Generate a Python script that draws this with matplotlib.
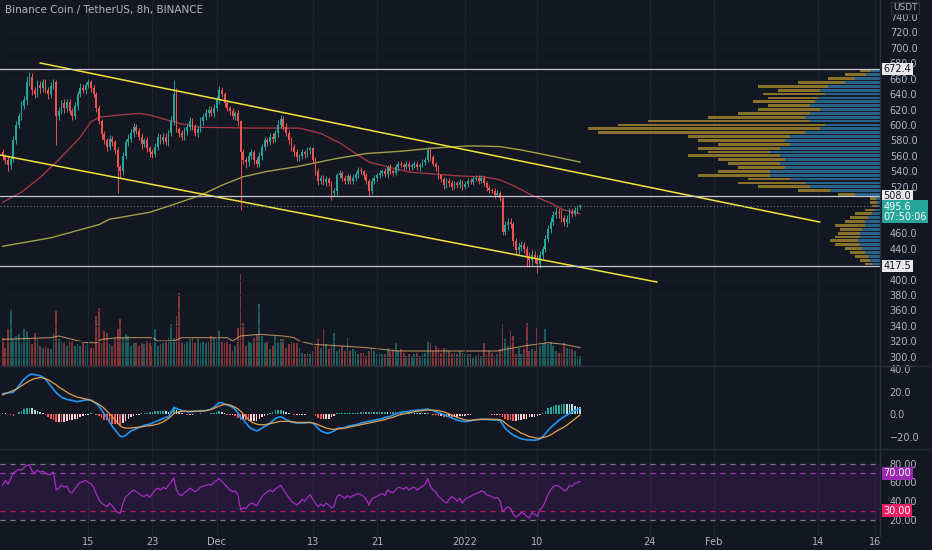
import numpy as np
import matplotlib
matplotlib.use("Agg")
import matplotlib.pyplot as plt
from matplotlib.transforms import blended_transform_factory as btf
from matplotlib.lines import Line2D

# ---- data (BNB/USDT, 8h candles) ----
first_open = 565
closes = [
    560, 555, 548, 556, 580, 600, 612, 625, 632, 655,
    662, 645, 640, 652, 648, 655, 645, 640, 650, 655,
    612, 618, 628, 622, 630, 618, 612, 625, 640, 648,
    645, 652, 655, 648, 640, 622, 605, 588, 580, 572,
    582, 578, 568, 545, 540, 560, 578, 582, 590, 598,
    592, 585, 575, 580, 570, 565, 562, 572, 585, 580,
    585, 578, 590, 605, 640, 595, 590, 585, 592, 598,
    605, 598, 590, 595, 605, 610, 615, 620, 615, 622,
    632, 645, 640, 628, 622, 618, 612, 615, 605, 565,
    555, 552, 560, 565, 555, 550, 560, 572, 580, 578,
    585, 582, 590, 600, 608, 598, 590, 580, 572, 565,
    558, 560, 565, 562, 568, 570, 555, 540, 528, 532,
    526, 530, 525, 512, 515, 535, 538, 532, 528, 534,
    528, 532, 536, 542, 540, 535, 528, 515, 528, 532,
    535, 538, 540, 536, 545, 540, 538, 545, 550, 548,
    546, 550, 545, 548, 550, 545, 548, 552, 555, 568,
    558, 550, 545, 535, 530, 522, 528, 525, 520, 525,
    522, 526, 520, 524, 528, 526, 530, 532, 528, 531,
    525, 518, 516, 515, 510, 512, 505, 462, 470, 475,
    472, 450, 438, 442, 445, 440, 430, 425, 432, 428,
    420, 432, 440, 452, 465, 475, 484, 488, 486, 480,
    475, 478, 488, 485, 490, 494, 495.6,
]
wick_up = [
    4, 3, 5, 4, 6, 5, 4, 6, 5, 8,
    6, 5, 4, 6, 5, 4, 5, 4, 6, 5,
    3, 5, 4, 5, 4, 3, 4, 5, 4, 6,
    5, 4, 5, 3, 4, 3, 4, 3, 4, 3,
    5, 4, 3, 4, 3, 5, 4, 6, 5, 4,
    3, 4, 5, 3, 4, 3, 4, 5, 4, 3,
    4, 5, 4, 6, 18, 8, 3, 4, 5, 4,
    5, 4, 3, 4, 5, 4, 6, 5, 4, 5,
    6, 5, 4, 3, 4, 3, 4, 3, 4, 2,
    4, 3, 5, 4, 3, 4, 5, 4, 5, 3,
    4, 5, 4, 6, 5, 3, 4, 3, 4, 3,
    4, 3, 4, 3, 4, 3, 2, 3, 4, 3,
    3, 4, 3, 2, 4, 3, 4, 3, 3, 4,
    3, 4, 3, 4, 3, 2, 3, 2, 4, 3,
    3, 4, 3, 4, 3, 4, 3, 4, 3, 4,
    3, 4, 3, 3, 4, 3, 3, 4, 3, 4,
    2, 3, 2, 3, 2, 3, 4, 3, 4, 3,
    3, 4, 3, 3, 4, 3, 4, 3, 3, 4,
    3, 3, 4, 3, 3, 4, 3, 2, 6, 5,
    5, 3, 4, 6, 5, 4, 4, 5, 6, 5,
    4, 5, 4, 6, 5, 6, 5, 6, 4, 5,
    4, 5, 4, 5, 4, 3, 2,
]
wick_dn = [
    5, 6, 8, 5, 4, 5, 4, 5, 4, 6,
    5, 6, 5, 4, 6, 5, 4, 6, 5, 4,
    38, 5, 4, 6, 5, 4, 5, 4, 5, 4,
    4, 5, 4, 5, 4, 5, 4, 6, 5, 6,
    4, 5, 6, 33, 8, 5, 4, 5, 4, 5,
    4, 5, 6, 4, 5, 6, 5, 4, 5, 4,
    5, 4, 5, 4, 5, 4, 6, 5, 4, 5,
    4, 5, 4, 5, 4, 5, 4, 5, 4, 5,
    4, 5, 4, 5, 4, 5, 4, 5, 6, 75,
    6, 8, 5, 4, 6, 5, 4, 5, 4, 5,
    4, 5, 4, 5, 4, 5, 4, 5, 6, 5,
    4, 5, 4, 5, 4, 5, 4, 5, 6, 5,
    4, 5, 4, 9, 4, 5, 4, 5, 4, 5,
    4, 5, 4, 5, 4, 5, 4, 7, 4, 5,
    4, 3, 4, 3, 4, 3, 4, 3, 4, 3,
    4, 3, 4, 3, 4, 3, 4, 3, 4, 3,
    4, 3, 4, 5, 4, 5, 4, 5, 4, 3,
    4, 3, 4, 3, 4, 3, 4, 3, 4, 3,
    4, 3, 4, 3, 4, 3, 4, 4, 5, 6,
    5, 6, 5, 6, 5, 6, 14, 9, 6, 7,
    12, 5, 6, 5, 4, 5, 4, 5, 6, 5,
    6, 7, 5, 4, 3, 4, 3,
]
volume = [
    85, 55, 110, 170, 80, 90, 95, 70, 110, 105,
    85, 65, 100, 80, 60, 55, 60, 55, 50, 100,
    165, 80, 75, 70, 60, 75, 75, 60, 65, 60,
    70, 60, 65, 55, 55, 150, 175, 70, 105, 100,
    65, 60, 80, 110, 140, 85, 95, 90, 60, 70,
    70, 60, 70, 65, 75, 70, 60, 110, 60, 65,
    70, 75, 85, 125, 85, 150, 220, 70, 65, 75,
    80, 85, 70, 80, 70, 75, 70, 75, 90, 85,
    80, 105, 75, 70, 75, 65, 45, 60, 115, 275,
    130, 60, 75, 70, 85, 95, 185, 90, 70, 75,
    50, 60, 90, 70, 80, 80, 55, 65, 75, 70,
    70, 55, 40, 35, 40, 35, 45, 60, 80, 55,
    110, 65, 50, 60, 100, 45, 50, 60, 45, 85,
    45, 50, 45, 35, 40, 40, 30, 45, 50, 45,
    35, 40, 35, 35, 55, 45, 45, 70, 45, 50,
    40, 30, 35, 30, 35, 40, 30, 35, 40, 75,
    70, 45, 60, 55, 40, 55, 50, 45, 35, 40,
    35, 45, 40, 35, 35, 35, 25, 30, 35, 30,
    70, 35, 45, 40, 30, 35, 50, 125, 80, 60,
    105, 90, 35, 55, 35, 50, 130, 45, 50, 45,
    115, 60, 65, 110, 65, 75, 60, 45, 40, 40,
    70, 55, 50, 50, 45, 30, 30,
]
vol_ma_idx = [0, 18, 21, 31, 35, 37, 43, 56, 58, 64, 67, 74, 84, 86, 89, 96,
              105, 109, 111, 116, 123, 136, 142, 148, 160, 173, 185, 188, 195,
              204, 210, 216]
vol_ma_val = [80, 85, 90, 70, 70, 80, 85, 85, 75, 75, 85, 85, 85, 75, 90, 95,
              90, 85, 75, 65, 62, 55, 50, 45, 45, 45, 45, 50, 60, 70, 65, 55]

ma50_idx = [0, 7, 14, 21, 29, 33, 36, 44, 51, 55, 62, 66, 74, 93, 108, 111, 119,
            126, 133, 137, 144, 152, 167, 171, 180, 186, 192, 198, 205, 210, 216]
ma50_val = [500, 513, 532, 555, 584, 604, 610, 613, 615, 613, 606, 602, 597, 596,
            596, 596, 589, 577, 561, 552, 546, 539, 535, 534, 533, 529, 520, 509,
            499, 490, 485]
ma200_idx = [0, 18, 36, 40, 55, 63, 74, 82, 90, 99, 110, 124, 136, 149, 161, 175,
             186, 195, 205, 216]
ma200_val = [443, 454, 471, 478, 487, 496, 509, 522, 533, 540, 546, 556, 563, 566,
             570, 573, 572, 567, 560, 552]

macd = [
    18, 18.5, 19, 19, 19.5, 22, 25, 28, 31, 33,
    35, 35.5, 35, 34.5, 34, 33, 31, 28, 25, 22,
    19, 17, 15, 14, 13, 12.5, 12, 11.5, 11, 11.5,
    12, 12.5, 12.5, 12.5, 11, 9, 7, 3.5, 0, -3,
    -7, -11, -14, -17, -20, -20, -19, -17, -15, -14,
    -13, -12, -11, -10, -9.5, -9, -8, -7, -6, -5,
    -4, -3, -2.5, 1, 6, 5, 4, 3, 2.5, 2,
    2, 2, 2.5, 2.5, 3, 3, 3, 3.5, 4.5, 6,
    8, 10, 10, 9, 8, 7, 6, 4, 1, -3,
    -5, -8, -11, -13, -14, -15, -14, -12.5, -11, -10,
    -8, -6, -4, -3, -2.5, -3.5, -5, -6, -7, -7.5,
    -8, -8, -8, -8, -7.5, -7.5, -8, -10, -13, -15,
    -16, -17, -17, -16, -15, -13, -12.5, -12.5, -12, -11,
    -10.5, -10, -9.5, -9, -8, -7.5, -7, -6.5, -6, -5.5,
    -5, -4.5, -4, -3, -2.5, -2, -1, 0, 1, 1.5,
    2, 2, 2.5, 3, 3, 3.5, 3.5, 4, 4, 4.5,
    3.5, 3, 2, 1, 0.5, -0.5, -1.5, -2.4, -3.5, -4.5,
    -5.5, -6, -6.5, -6.8, -6.5, -6, -5.5, -5, -4.8, -4.7,
    -4.7, -4.8, -5, -5.2, -5.3, -5.3, -6, -9, -12.7, -15,
    -17, -18.7, -20, -21, -22, -22.5, -23, -23, -23.2, -23.3,
    -23, -22, -20, -17.5, -14.5, -12, -9.8, -7.8, -5.8, -4,
    -2.4, -1, 0.5, 2, 3, 4, 5,
]
signal = [
    17, 18, 19, 20, 21, 22, 23.5, 25, 26.5, 28,
    29.5, 30.5, 31.5, 32, 32.5, 32, 31.5, 30.5, 29, 27.5,
    26, 24, 22.5, 21, 19.5, 18, 17, 16, 15, 14.5,
    14, 13.5, 13, 12, 11, 10, 8.5, 7, 5, 2.5,
    0, -2.5, -5, -8, -10.5, -12, -12.5, -12.5, -12.5, -12,
    -12, -11.5, -11.5, -11, -10.5, -10.5, -10, -9.5, -9, -8,
    -7, -5.5, -4, -2, 0.5, 1.5, 2, 2.5, 2.5, 2.5,
    2.5, 2.5, 2.5, 2.5, 2.5, 2.7, 3, 3.5, 4, 5,
    6, 7, 8, 8.5, 8.5, 8, 7, 6, 4.5, 2.5,
    0, -2.5, -5, -7, -8, -9, -9.5, -9.5, -9.5, -9,
    -8.5, -8, -7.5, -7, -6.5, -6.5, -6.5, -6.5, -7, -7,
    -7.5, -7.5, -7.5, -7.5, -7.5, -7.5, -8, -8.5, -9.5, -10.5,
    -11.5, -12.5, -13, -13.5, -13.5, -13.5, -13, -13, -12.5, -12,
    -11.5, -11, -10.5, -10, -9.5, -9, -8.5, -8, -7.5, -7,
    -6.5, -6, -5.5, -5, -4, -3.5, -3, -2, -1, -0.5,
    0, 0.5, 1, 1.5, 2, 2.5, 2.7, 3, 3.2, 3.5,
    3.5, 3.5, 3.2, 3, 2.5, 2, 1, 0, -1, -2,
    -3, -3.8, -4.5, -5.3, -5.5, -5.5, -5.4, -5.2, -5, -4.8,
    -4.7, -4.6, -4.6, -4.6, -4.7, -4.7, -5, -6, -8, -10,
    -11.5, -12.7, -14, -15.5, -17, -18, -19, -20, -20.5, -21,
    -21.5, -21.5, -21, -20.5, -19.6, -18.5, -17, -15.5, -14, -12.8,
    -11.6, -10, -8.2, -6.5, -4.5, -2.5, -0.9,
]
rsi = [
    57, 62, 58, 64, 70, 72, 74, 73, 76, 78,
    79, 72, 70, 73, 71, 72, 70, 68, 69, 71,
    52, 54, 57, 55, 56, 50, 49, 53, 57, 60,
    61, 62, 60, 59, 55, 48, 42, 38, 36, 34,
    38, 35, 31, 28, 27, 38, 45, 47, 50, 52,
    50, 48, 46, 45, 47, 44, 48, 52, 54, 52,
    55, 53, 57, 60, 65, 52, 47, 46, 49, 51,
    54, 52, 50, 52, 55, 56, 57, 58, 57, 60,
    62, 64, 61, 58, 55, 52, 50, 51, 47, 31,
    33, 32, 36, 38, 37, 35, 40, 45, 48, 50,
    52, 50, 53, 55, 57, 52, 48, 44, 40, 38,
    36, 38, 42, 40, 44, 47, 42, 38, 34, 37,
    35, 38, 36, 33, 35, 45, 47, 45, 43, 46,
    44, 46, 47, 48, 47, 45, 42, 36, 42, 44,
    45, 47, 48, 46, 52, 50, 49, 52, 55, 54,
    53, 55, 52, 54, 55, 52, 54, 56, 58, 64,
    56, 52, 50, 45, 43, 40, 38, 42, 45, 43,
    40, 43, 38, 42, 44, 45, 47, 48, 49, 51,
    50, 47, 46, 45, 43, 44, 41, 29, 32, 34,
    32, 26, 23, 25, 28, 27, 24, 22, 28, 26,
    24, 31, 34, 40, 47, 52, 56, 57, 56, 54,
    51, 52, 57, 56, 59, 60, 61,
]

# visible range volume profile (5 USDT rows)
vp_price = list(range(420, 675, 5))
vp_total = [15, 20, 25, 30, 35, 45, 50, 45, 42, 40, 45, 35, 30, 25, 15, 8, 10, 10,
            42, 82, 122, 142, 132, 182, 162, 142, 152, 162, 192, 172, 182, 162,
            182, 192, 282, 292, 262, 232, 172, 142, 122, 112, 127, 112, 117, 102,
            122, 82, 52, 35, 20]
vp_up = [8, 10, 12, 15, 18, 20, 22, 20, 20, 18, 15, 15, 12, 8, 5, 3, 3, 4,
         25, 50, 70, 75, 90, 110, 110, 95, 100, 95, 100, 110, 100, 90,
         95, 90, 75, 60, 55, 70, 75, 70, 60, 70, 65, 62, 55, 60,
         52, 35, 25, 14, 9]

# drawn annotations: trend channel and levels
upper_trend = ([5.0, 102.2], [680.2, 474.4])
lower_trend = ([0.0, 81.9], [561.1, 396.8])
levels = [672.4, 508.0, 417.5]
last_price = 495.6

tick_days = [11, 19, 27, 39, 47, 58, 67, 81, 89, 102, 109.1]
tick_labels = ["15", "23", "Dec", "13", "21", "2022", "10", "24", "Feb", "14", "16"]
price_ticks = [300, 320, 340, 360, 380, 400, 440, 460, 480, 520, 540, 560, 580,
               600, 620, 640, 660, 680, 700, 720, 740]

# ---- styling ----
BG = "#131722"
TXT = "#b2b5be"
GRID = "#1f2330"
UP, DN = "#26a69a", "#ef5350"

plt.rcParams["font.family"] = ["DejaVu Sans"]

fig = plt.figure(figsize=(9.32, 5.5), dpi=100, facecolor=BG)
W = 880 / 932
ax = fig.add_axes([0, 1 - 366 / 550, W, 366 / 550])
axm = fig.add_axes([0, 1 - 449 / 550, W, 83 / 550], sharex=ax)
axr = fig.add_axes([0, 1 - 536 / 550, W, 87 / 550], sharex=ax)
vax = ax.twinx()
vax.set_facecolor(BG)
ax.set_zorder(vax.get_zorder() + 1)
ax.patch.set_visible(False)

for a in (ax, axm, axr, vax):
    for s in a.spines.values():
        s.set_visible(False)
for a in (axm, axr):
    a.set_facecolor(BG)

c = np.array(closes, dtype=float)
o = np.array([first_open] + closes[:-1], dtype=float)
hi = np.maximum(o, c) + np.array(wick_up)
lo = np.minimum(o, c) - np.array(wick_dn)
n = len(c)
x = (np.arange(n) + 1) / 3
cols = np.where(c >= o, UP, DN)

# grid
for a in (ax, axm, axr):
    for d in tick_days:
        a.axvline(d, color=GRID, lw=0.8, zorder=0)
for p in range(300, 760, 20):
    ax.axhline(p, color="#181c27", lw=0.6, zorder=0)

# volume overlay
vax.bar(x, volume, width=0.22, color=cols, alpha=0.5, lw=0)
vax.plot(np.array(vol_ma_idx) / 3 + 1 / 3, vol_ma_val, color="#d9a066", lw=0.8, alpha=0.8)
vax.set_ylim(0, 1098)
vax.set_yticks([])

# volume profile anchored to right edge
tr = btf(ax.transAxes, ax.transData)
scale = 292 / 880 / max(vp_total)
tot = np.array(vp_total) * scale
upv = np.array(vp_up) * scale
ax.barh(vp_price, tot, left=1 - tot, height=3.6, color="#9f822b", alpha=0.85,
        lw=0, transform=tr, zorder=1)
ax.barh(vp_price, upv, left=1 - upv, height=3.6, color="#1f6194", alpha=0.9,
        lw=0, transform=tr, zorder=1)

# candles
ax.vlines(x, lo, hi, colors=cols, lw=0.7, zorder=3)
ax.bar(x, np.maximum(np.abs(c - o), 0.5), bottom=np.minimum(o, c), width=0.22,
       color=cols, lw=0, zorder=3)

# moving averages
ax.plot(np.array(ma50_idx) / 3 + 1 / 3, ma50_val, color="#c9404c", lw=0.9, alpha=0.85, zorder=2)
ax.plot(np.array(ma200_idx) / 3 + 1 / 3, ma200_val, color="#b4ae45", lw=1.0, alpha=0.9, zorder=2)

# channel + levels
ax.plot(*upper_trend, color="#f5e23b", lw=1.1, zorder=4)
ax.plot(*lower_trend, color="#f5e23b", lw=1.1, zorder=4)
for lv in levels:
    ax.axhline(lv, color="#c7c9d1", lw=0.9, zorder=4)
ax.axhline(last_price, color="#787b86", lw=0.8, ls=(0, (1, 2)), zorder=4)

ax.set_xlim(0, 880 / 8.02)
ax.set_ylim(288.1, 761.7)
ax.yaxis.tick_right()
ax.set_yticks(price_ticks)
ax.set_yticklabels([f"{v:.1f}" for v in price_ticks])

# MACD
hist = np.array(macd) - np.array(signal)
prev = np.concatenate([[hist[0]], hist[:-1]])
hcols = np.where(hist >= 0, np.where(hist >= prev, "#26a69a", "#b2dfdb"),
                 np.where(hist < prev, "#ff5252", "#ffcdd2"))
axm.bar(x, hist, width=0.2, color=hcols, lw=0)
axm.plot(x, macd, color="#2196f3", lw=1.2)
axm.plot(x, signal, color="#e0a050", lw=0.9)
axm.set_ylim(-31.1, 42.7)
axm.yaxis.tick_right()
axm.set_yticks([40, 20, 0, -20])
axm.set_yticklabels(["40.0", "20.0", "0.0", "\u221220.0"])

# RSI
axr.axhspan(20, 80, color="#7b1fa2", alpha=0.14, lw=0)
axr.axhspan(30, 70, color="#7b1fa2", alpha=0.05, lw=0)
for lv, col in ((80, "#787b86"), (70, "#a33bb8"), (30, "#c2185b"), (20, "#787b86")):
    axr.axhline(lv, color=col, lw=0.9, ls=(0, (4, 4)))
axr.plot(x, rsi, color="#a52fc2", lw=0.9)
axr.set_ylim(3.0, 95.6)
axr.yaxis.tick_right()
axr.set_yticks([80, 60, 40, 20])
axr.set_yticklabels(["80.00", "60.00", "40.00", "20.00"])

for a in (ax, axm, axr):
    a.tick_params(axis="y", length=0, pad=7, labelsize=7, colors=TXT)
    a.tick_params(axis="x", length=0)
for a in (ax, axm):
    plt.setp(a.get_xticklabels(), visible=False)
axr.set_xticks(tick_days)
axr.set_xticklabels(tick_labels)
axr.tick_params(axis="x", pad=1, labelsize=7, colors=TXT)


def tag(a, y, text, fc, tc, va="center"):
    a.text(1.004, y, text, transform=btf(a.transAxes, a.transData), ha="left", va=va,
           fontsize=7, color=tc, linespacing=1.0, clip_on=False, zorder=20,
           bbox=dict(boxstyle="square,pad=0.15", fc=fc, ec="none"))


for lv in levels:
    tag(ax, lv, f"{lv:.1f}", "#e8e8ea", "#131722")
tag(ax, 500.5, "495.6\n07:50:06", "#26a69a", "white", va="top")
tag(axr, 70, "70.00", "#9c27b0", "white")
tag(axr, 30, "30.00", "#e91e63", "white")

fig.text(905 / 932, 1 - 8 / 550, "USDT", color=TXT, fontsize=6.5, ha="center", va="center",
         bbox=dict(boxstyle="square,pad=0.2", fc=BG, ec="#363a45", lw=0.6))
fig.text(5 / 932, 1 - 10 / 550, "Binance Coin / TetherUS, 8h, BINANCE", color=TXT,
         fontsize=7.5, va="center")

# pane separators
for yy in (366, 449):
    fig.add_artist(Line2D([0, 1], [1 - yy / 550] * 2, color="#2a2e39", lw=1))
fig.add_artist(Line2D([W, W], [1 - 536 / 550, 1], color="#2a2e39", lw=1))

fig.savefig("out.png", dpi=100, facecolor=BG)
